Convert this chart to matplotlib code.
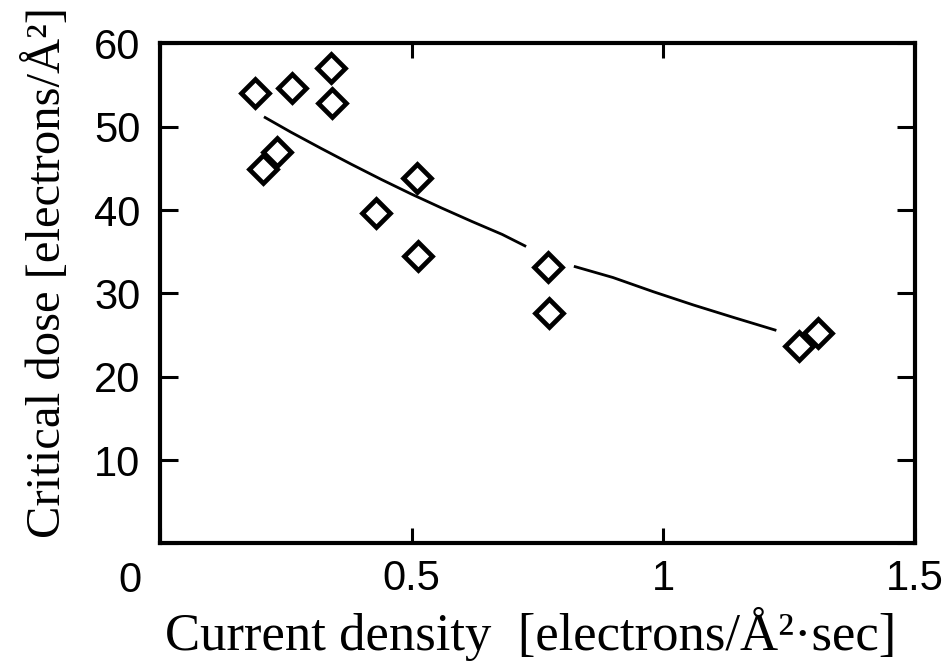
import matplotlib
matplotlib.use("Agg")
import matplotlib.pyplot as plt
import numpy as np

# measured points: current density vs critical dose
current_density = [0.189, 0.262, 0.340, 0.342, 0.205, 0.232, 0.429, 0.510, 0.513, 0.770, 0.773, 1.270, 1.308]
critical_dose = [54.0, 54.6, 57.1, 52.9, 44.9, 47.0, 39.6, 43.9, 34.5, 33.2, 27.7, 23.7, 25.3]

# fitted curve (broken where it passes the marker at 0.77)
fit_x = [0.209, 0.26, 0.32, 0.38, 0.44, 0.50, 0.56, 0.62, 0.68, 0.725,
         np.nan, 0.825, 0.90, 0.98, 1.06, 1.14, 1.222]
fit_y = [51.1, 49.35, 47.4, 45.5, 43.66, 41.9, 40.23, 38.62, 37.07, 35.7,
         np.nan, 33.2, 31.9, 30.2, 28.6, 27.1, 25.6]

x_ticks = [0, 0.5, 1, 1.5]
x_tick_labels = ["", "0.5", "1", "1.5"]
y_ticks = [0, 10, 20, 30, 40, 50, 60]
y_tick_labels = ["", "10", "20", "30", "40", "50", "60"]

sans = ["Liberation Sans Narrow", "Liberation Sans", "DejaVu Sans"]
serif = ["Liberation Serif", "DejaVu Serif"]

fig = plt.figure(figsize=(9.51, 6.63), dpi=100)
ax = fig.add_axes([0.1682, 0.1805, 0.7939, 0.7541])

ax.plot(fit_x, fit_y, color="black", lw=2.0, zorder=2)
ax.plot(current_density, critical_dose, linestyle="none", marker="D", ms=14,
        mfc="none", mec="black", mew=3.4, zorder=3)

ax.set_xlim(0, 1.5)
ax.set_ylim(0, 60)
ax.set_xticks(x_ticks)
ax.set_xticklabels(x_tick_labels, family=sans, fontsize=30)
ax.set_yticks(y_ticks)
ax.set_yticklabels(y_tick_labels, family=sans, fontsize=30)

ax.tick_params(axis="both", direction="in", top=True, right=True, width=2.2, color="black")
ax.tick_params(axis="x", length=11, pad=11)
ax.tick_params(axis="y", length=13, pad=14)
for s in ax.spines.values():
    s.set_linewidth(3)

# shared origin label sits below the corner
ax.annotate("0", xy=(0, 0), xycoords="data", xytext=(-13, -27), textcoords="offset points",
            ha="right", va="center", family=sans, fontsize=30)

fig.text(531 / 951, 13 / 663, "Current density  [electrons/Å²·sec]",
         ha="center", va="baseline", family=serif, fontsize=38)
fig.text(60 / 951, (663 - 272) / 663, "Critical dose [electrons/Å²]",
         ha="center", va="baseline", rotation=90, rotation_mode="anchor",
         family=serif, fontsize=35)

fig.savefig("out.png", dpi=100)
